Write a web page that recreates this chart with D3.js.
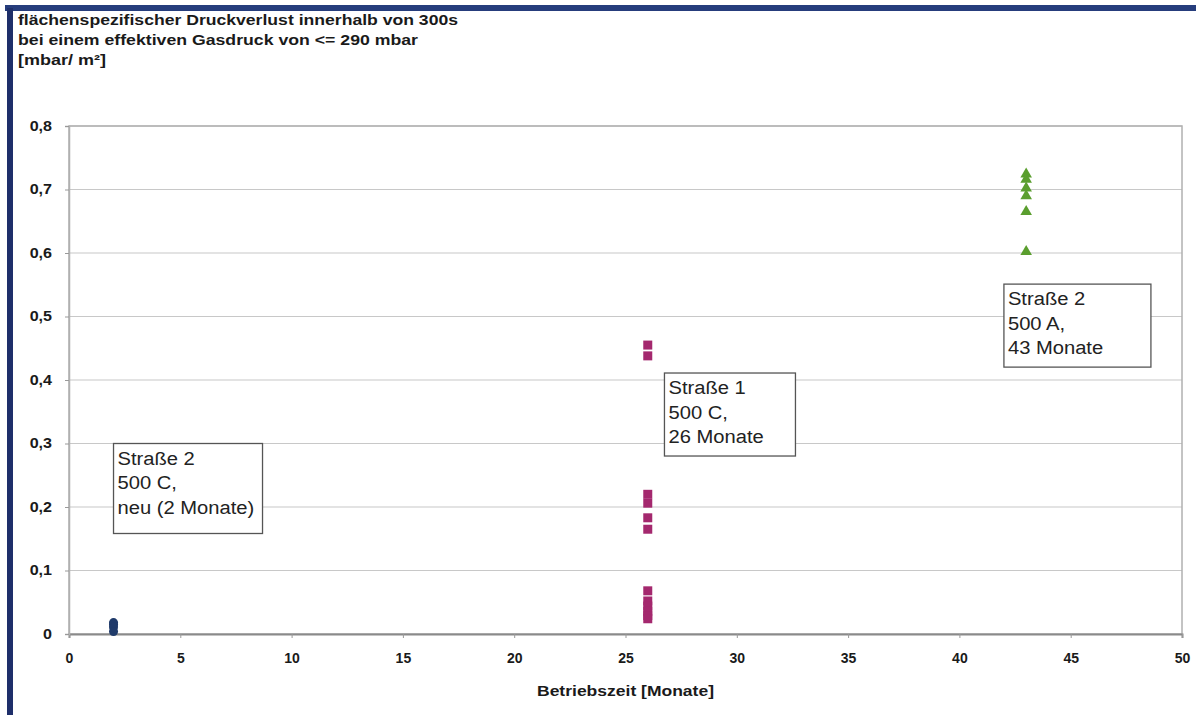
<!DOCTYPE html>
<html><head><meta charset="utf-8">
<script src="https://cdn.jsdelivr.net/npm/d3@7/dist/d3.min.js"></script>
<style>
html,body{margin:0;padding:0;background:#fff;}
svg{display:block;font-family:"Liberation Sans",Arial,sans-serif;}
</style></head>
<body>
<svg id="chart" width="1196" height="715"></svg>
<script>
// ---- data ----
const titleLines = ["flächenspezifischer Druckverlust innerhalb von 300s","bei einem effektiven Gasdruck von <= 290 mbar","[mbar/ m²]"];
const xLabel = "Betriebszeit [Monate]";
const xTicks = [0,5,10,15,20,25,30,35,40,45,50];
const yTicks = [0,0.1,0.2,0.3,0.4,0.5,0.6,0.7,0.8];
const s1Month = 2;   const s1Values = [0.018,0.015,0.011,0.004];
const s2Month = 26;  const s2Values = [0.455,0.438,0.220,0.206,0.183,0.165,0.068,0.052,0.044,0.036,0.029,0.024];
const s3Month = 43;  const s3Values = [0.724,0.716,0.702,0.690,0.665,0.602];
const noteTexts = [
  ["Straße 2","500 C,","neu (2 Monate)"],
  ["Straße 1","500 C,","26 Monate"],
  ["Straße 2","500 A,","43 Monate"]
];
const noteAnchorX = [2, 26.75, 42];
const noteAnchorY = [0.30, 0.411, 0.551];

const svg = d3.select("#chart");
const L=69, R=1182, T=126, B=634;
const x = d3.scaleLinear().domain([0,50]).range([L,R]);
const y = d3.scaleLinear().domain([0,0.8]).range([B,T]);
const fmt = d => d===0 ? "0" : d3.format(".1f")(d).replace(".",",");

// frame
svg.append("rect").attr("x",5).attr("y",5).attr("width",1191).attr("height",6).attr("fill","#263d7c");
svg.append("rect").attr("x",7).attr("y",8).attr("width",6).attr("height",707).attr("fill","#1e2f6a");

// title
const tt = svg.append("g").attr("font-weight","bold").attr("font-size","15px").attr("fill","#1a1a1a");
const titleW = [440, 400, 88];
titleLines.forEach((t,i)=>{
  tt.append("text").attr("x",18).attr("y",25+i*20).attr("textLength",titleW[i])
    .attr("lengthAdjust","spacingAndGlyphs").text(t);
});

// grid
svg.append("g").selectAll("line").data(yTicks.filter(d=>d>0)).join("line")
  .attr("x1",L).attr("x2",R).attr("y1",d=>y(d)).attr("y2",d=>y(d))
  .attr("stroke","#c8c8c8").attr("stroke-width",1.2);
svg.append("rect").attr("x",L).attr("y",T).attr("width",R-L).attr("height",B-T)
  .attr("fill","none").attr("stroke","#b0b0b0").attr("stroke-width",1.5);

// axes
const xa = svg.append("g").attr("transform",`translate(0,${B})`)
  .call(d3.axisBottom(x).tickValues(xTicks).tickFormat(d=>d).tickSize(4).tickPadding(15));
const ya = svg.append("g").attr("transform",`translate(${L},0)`)
  .call(d3.axisLeft(y).tickValues(yTicks).tickFormat(fmt).tickSize(4).tickPadding(13));
[xa,ya].forEach(a=>{
  a.select(".domain").attr("stroke","#8a8a8a").attr("stroke-width",2);
  a.selectAll(".tick line").attr("stroke","#999");
  a.selectAll("text").attr("font-family","'Liberation Sans',Arial,sans-serif")
   .attr("font-size","14px").attr("font-weight","bold").attr("fill","#1a1a1a");
});
ya.select(".domain").attr("stroke","#b0b0b0").attr("stroke-width",1.5);
ya.selectAll(".tick text").each(function(){
  const e=d3.select(this); e.attr("textLength",this.getComputedTextLength()*1.15).attr("lengthAdjust","spacingAndGlyphs");
});

svg.append("text").attr("x",(L+R)/2).attr("y",696).attr("text-anchor","middle")
  .attr("font-size","15px").attr("font-weight","bold").attr("fill","#1a1a1a")
  .attr("textLength",177).attr("lengthAdjust","spacingAndGlyphs").text(xLabel);

// points
const g = svg.append("g");
g.selectAll("path.s1").data(s1Values).join("path").attr("class","s1")
  .attr("transform",d=>`translate(${x(s1Month)},${y(d)})`)
  .attr("d",d3.symbol(d3.symbolCircle,64)).attr("fill","#1f3a6a");
g.selectAll("path.s2").data(s2Values).join("path").attr("class","s2")
  .attr("transform",d=>`translate(${x(s2Month)},${y(d)})`)
  .attr("d",d3.symbol(d3.symbolSquare,81)).attr("fill","#a4286e");
g.selectAll("path.s3").data(s3Values).join("path").attr("class","s3")
  .attr("transform",d=>`translate(${x(s3Month)},${y(d)})`)
  .attr("d",d3.symbol(d3.symbolTriangle,58)).attr("fill","#5a9e2e");

// notes
const boxW = [149, 131, 147];
const boxH = [90, 83, 83];
noteTexts.forEach((lines,k)=>{
  const gx = x(noteAnchorX[k]), gy = y(noteAnchorY[k]);
  const grp = svg.append("g").attr("transform",`translate(${gx},${gy})`);
  grp.append("rect").attr("x",0).attr("y",0).attr("width",boxW[k]).attr("height",boxH[k])
    .attr("fill","#fff").attr("stroke","#555").attr("stroke-width",1.3);
  const txt = grp.append("g").attr("font-size","18px").attr("fill","#222");
  lines.forEach((t,i)=>{
    const e = txt.append("text").attr("x",4).attr("y",21+i*24.5).text(t);
    e.attr("textLength",e.node().getComputedTextLength()*1.12).attr("lengthAdjust","spacingAndGlyphs");
  });
});
</script>
</body></html>
